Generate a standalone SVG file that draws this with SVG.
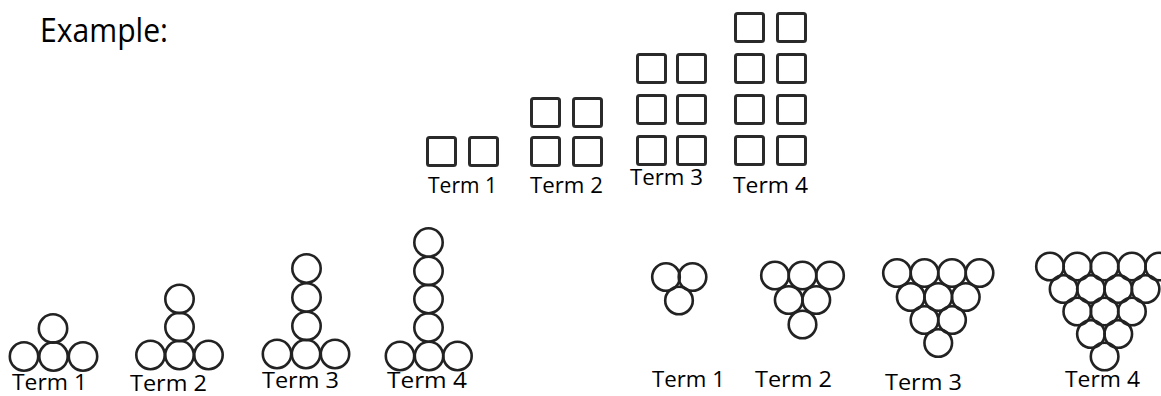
<svg xmlns="http://www.w3.org/2000/svg" width="1161" height="396" viewBox="0 0 1161 396">
  <defs>
    <filter id="soft" x="-5%" y="-5%" width="110%" height="110%">
      <feGaussianBlur stdDeviation="0.6"/>
    </filter>
  </defs>
  <style>
    text { font-family: "Open Sans", "DejaVu Sans", sans-serif; fill: #000; }
    .lbl { font-size: 22px; }
    .title { font-size: 32px; }
    .sq { fill: none; stroke: #2a2a2a; stroke-width: 3; }
    .c { fill: none; stroke: #222; stroke-width: 2.6; }
    .cs { fill: none; stroke: #222; stroke-width: 2.6; }
    .shape { filter: url(#soft); }
  </style>
  <rect width="1161" height="396" fill="#fff"/>

  <text class="title" x="40" y="42" textLength="128" lengthAdjust="spacingAndGlyphs">Example:</text>

  <!-- Square pattern: two columns, one more row per term -->
  <g id="squares-term1">
    <g class="shape">
      <rect class="sq" x="427.5" y="137.5" width="28" height="28" rx="2"/>
      <rect class="sq" x="469.5" y="137.5" width="28" height="28" rx="2"/>
    </g>
    <text class="lbl" x="428" y="193" textLength="69" lengthAdjust="spacingAndGlyphs">Term 1</text>
  </g>
  <g id="squares-term2">
    <g class="shape">
      <rect class="sq" x="531.5" y="98.5" width="28" height="28" rx="2"/>
      <rect class="sq" x="573.5" y="98.5" width="28" height="28" rx="2"/>
      <rect class="sq" x="531.5" y="137.5" width="28" height="28" rx="2"/>
      <rect class="sq" x="573.5" y="137.5" width="28" height="28" rx="2"/>
    </g>
    <text class="lbl" x="530" y="193" textLength="73" lengthAdjust="spacingAndGlyphs">Term 2</text>
  </g>
  <g id="squares-term3">
    <g class="shape">
      <rect class="sq" x="637.5" y="54.5" width="28" height="28" rx="2"/>
      <rect class="sq" x="677.5" y="54.5" width="28" height="28" rx="2"/>
      <rect class="sq" x="637.5" y="95.5" width="28" height="28" rx="2"/>
      <rect class="sq" x="677.5" y="95.5" width="28" height="28" rx="2"/>
      <rect class="sq" x="637.5" y="136.5" width="28" height="28" rx="2"/>
      <rect class="sq" x="677.5" y="136.5" width="28" height="28" rx="2"/>
    </g>
    <text class="lbl" x="630" y="185" textLength="73" lengthAdjust="spacingAndGlyphs">Term 3</text>
  </g>
  <g id="squares-term4">
    <g class="shape">
      <rect class="sq" x="735.5" y="13.5" width="28" height="28" rx="2"/>
      <rect class="sq" x="777.5" y="13.5" width="28" height="28" rx="2"/>
      <rect class="sq" x="735.5" y="54.5" width="28" height="28" rx="2"/>
      <rect class="sq" x="777.5" y="54.5" width="28" height="28" rx="2"/>
      <rect class="sq" x="735.5" y="95.5" width="28" height="28" rx="2"/>
      <rect class="sq" x="777.5" y="95.5" width="28" height="28" rx="2"/>
      <rect class="sq" x="735.5" y="136.5" width="28" height="28" rx="2"/>
      <rect class="sq" x="777.5" y="136.5" width="28" height="28" rx="2"/>
    </g>
    <text class="lbl" x="733" y="193" textLength="75" lengthAdjust="spacingAndGlyphs">Term 4</text>
  </g>

  <!-- T pattern: base of three circles, a column that grows by one -->
  <g id="tee-term1">
    <g class="shape">
      <circle class="c" cx="24" cy="356.5" r="14.2"/>
      <circle class="c" cx="53.5" cy="356.5" r="14.2"/>
      <circle class="c" cx="83" cy="356.5" r="14.2"/>
      <circle class="c" cx="53" cy="328.5" r="14.2"/>
    </g>
    <text class="lbl" x="12" y="390" textLength="75" lengthAdjust="spacingAndGlyphs">Term 1</text>
  </g>
  <g id="tee-term2">
    <g class="shape">
      <circle class="c" cx="150.5" cy="355" r="14.2"/>
      <circle class="c" cx="179.5" cy="355" r="14.2"/>
      <circle class="c" cx="208.5" cy="355" r="14.2"/>
      <circle class="c" cx="179.5" cy="327" r="14.2"/>
      <circle class="c" cx="179.5" cy="299" r="14.2"/>
    </g>
    <text class="lbl" x="130" y="391" textLength="77" lengthAdjust="spacingAndGlyphs">Term 2</text>
  </g>
  <g id="tee-term3">
    <g class="shape">
      <circle class="c" cx="277" cy="354" r="14.2"/>
      <circle class="c" cx="306" cy="354" r="14.2"/>
      <circle class="c" cx="335" cy="354" r="14.2"/>
      <circle class="c" cx="306.5" cy="326" r="14.2"/>
      <circle class="c" cx="306.5" cy="297.5" r="14.2"/>
      <circle class="c" cx="306.5" cy="268.5" r="14.2"/>
    </g>
    <text class="lbl" x="262" y="388" textLength="77" lengthAdjust="spacingAndGlyphs">Term 3</text>
  </g>
  <g id="tee-term4">
    <g class="shape">
      <circle class="c" cx="400" cy="356" r="14.2"/>
      <circle class="c" cx="429" cy="356" r="14.2"/>
      <circle class="c" cx="457.5" cy="356" r="14.2"/>
      <circle class="c" cx="428.5" cy="327.5" r="14.2"/>
      <circle class="c" cx="428.5" cy="299" r="14.2"/>
      <circle class="c" cx="428.5" cy="271" r="14.2"/>
      <circle class="c" cx="428.5" cy="242.5" r="14.2"/>
    </g>
    <text class="lbl" x="387" y="388" textLength="80" lengthAdjust="spacingAndGlyphs">Term 4</text>
  </g>

  <!-- Triangle pattern: inverted triangular stacks -->
  <g id="tri-term1">
    <g class="shape">
      <circle class="cs" cx="666" cy="277" r="13.8"/>
      <circle class="cs" cx="692.5" cy="277" r="13.8"/>
      <circle class="cs" cx="679" cy="300.5" r="13.8"/>
    </g>
    <text class="lbl" x="652" y="387" textLength="73" lengthAdjust="spacingAndGlyphs">Term 1</text>
  </g>
  <g id="tri-term2">
    <g class="shape">
      <circle class="cs" cx="775" cy="275.5" r="13.8"/>
      <circle class="cs" cx="802.5" cy="275.5" r="13.8"/>
      <circle class="cs" cx="830" cy="275.5" r="13.8"/>
      <circle class="cs" cx="788.75" cy="300" r="13.8"/>
      <circle class="cs" cx="816.25" cy="300" r="13.8"/>
      <circle class="cs" cx="802.5" cy="324.5" r="13.8"/>
    </g>
    <text class="lbl" x="755" y="387" textLength="77" lengthAdjust="spacingAndGlyphs">Term 2</text>
  </g>
  <g id="tri-term3">
    <g class="shape">
      <circle class="cs" cx="897" cy="273" r="13.8"/>
      <circle class="cs" cx="924.5" cy="273" r="13.8"/>
      <circle class="cs" cx="952" cy="273" r="13.8"/>
      <circle class="cs" cx="979.5" cy="273" r="13.8"/>
      <circle class="cs" cx="910.75" cy="297" r="13.8"/>
      <circle class="cs" cx="938.25" cy="297" r="13.8"/>
      <circle class="cs" cx="965.75" cy="297" r="13.8"/>
      <circle class="cs" cx="924.5" cy="320" r="13.8"/>
      <circle class="cs" cx="952" cy="320" r="13.8"/>
      <circle class="cs" cx="938.25" cy="343" r="13.8"/>
    </g>
    <text class="lbl" x="885" y="390" textLength="77" lengthAdjust="spacingAndGlyphs">Term 3</text>
  </g>
  <g id="tri-term4">
    <g class="shape">
      <circle class="cs" cx="1050" cy="266.5" r="13.8"/>
      <circle class="cs" cx="1077.3" cy="266.5" r="13.8"/>
      <circle class="cs" cx="1104.6" cy="266.5" r="13.8"/>
      <circle class="cs" cx="1131.9" cy="266.5" r="13.8"/>
      <circle class="cs" cx="1159.2" cy="266.5" r="13.8"/>
      <circle class="cs" cx="1063.65" cy="289" r="13.8"/>
      <circle class="cs" cx="1090.95" cy="289" r="13.8"/>
      <circle class="cs" cx="1118.25" cy="289" r="13.8"/>
      <circle class="cs" cx="1145.55" cy="289" r="13.8"/>
      <circle class="cs" cx="1077.3" cy="311.5" r="13.8"/>
      <circle class="cs" cx="1104.6" cy="311.5" r="13.8"/>
      <circle class="cs" cx="1131.9" cy="311.5" r="13.8"/>
      <circle class="cs" cx="1090.95" cy="334" r="13.8"/>
      <circle class="cs" cx="1118.25" cy="334" r="13.8"/>
      <circle class="cs" cx="1104.6" cy="356.5" r="13.8"/>
    </g>
    <text class="lbl" x="1065" y="387" textLength="75" lengthAdjust="spacingAndGlyphs">Term 4</text>
  </g>
</svg>
